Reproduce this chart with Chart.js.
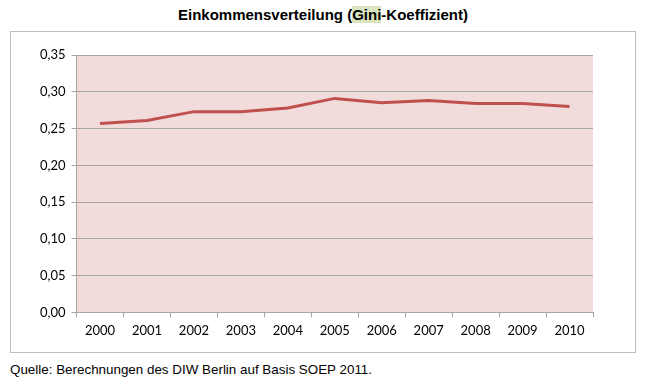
<!DOCTYPE html>
<html>
<head>
<meta charset="utf-8">
<script src="https://cdn.jsdelivr.net/npm/chart.js@4"></script>
<style>
    body { margin: 0; background: #fff; font-family: "Liberation Sans", Arial, sans-serif; }
    #title { position: absolute; left: 0; top: 6px; width: 646px; text-align: center; font-weight: bold; font-size: 15px; color: #000; }
    #title span { background: #d7e4bd; }
    #box { position: absolute; left: 10px; top: 31px; width: 624px; height: 320px; border: 1px solid #bfbfbf; }
    #source { position: absolute; left: 10px; top: 362px; font-size: 13.4px; color: #000; }
</style>
</head>
<body>
<div id="title">Einkommensverteilung (<span>Gini</span>-Koeffizient)</div>
<div id="box"><canvas id="myChart" width="624" height="320"></canvas></div>
<div id="source">Quelle: Berechnungen des DIW Berlin auf Basis SOEP 2011.</div>
<script>
const years = ['2000', '2001', '2002', '2003', '2004', '2005', '2006', '2007', '2008', '2009', '2010'];
const giniValues = [0.257, 0.261, 0.273, 0.273, 0.278, 0.291, 0.285, 0.288, 0.284, 0.284, 0.280];
const yTicks = [0, 0.05, 0.10, 0.15, 0.20, 0.25, 0.30, 0.35];

// fills the plot area with the pink background
const plotBackground = {
    id: 'plotBackground',
    beforeDraw(chart) {
        const a = chart.chartArea;
        chart.ctx.save();
        chart.ctx.fillStyle = '#f2dcdb';
        chart.ctx.fillRect(a.left, a.top, a.right - a.left, a.bottom - a.top);
        chart.ctx.restore();
    }
};

var ctx = document.getElementById('myChart').getContext('2d');
var myChart = new Chart(ctx, {
    type: 'line',
    data: {
        labels: years,
        datasets: [{
            data: giniValues,
            borderColor: '#c0504d',
            borderWidth: 3,
            pointRadius: 0,
            tension: 0,
            fill: false
        }]
    },
    options: {
        responsive: false,
        animation: false,
        layout: { padding: { left: 23, right: 42, top: 23, bottom: 7 } },
        plugins: {
            legend: { display: false },
            tooltip: { enabled: false }
        },
        scales: {
            x: {
                offset: true,
                grid: { offset: true, drawOnChartArea: false, drawTicks: true, tickLength: 5, color: '#a6a6a6' },
                border: { color: '#a6a6a6' },
                ticks: { color: '#000', font: { family: 'Lato', size: 13 }, padding: 6, maxRotation: 0 }
            },
            y: {
                min: 0,
                max: 0.35,
                afterBuildTicks: axis => { axis.ticks = yTicks.map(v => ({ value: v })); },
                grid: { color: '#a6a6a6', tickLength: 5 },
                border: { color: '#a6a6a6' },
                ticks: {
                    color: '#000',
                    font: { family: 'Lato', size: 13 },
                    padding: 6,
                    callback: value => value.toFixed(2).replace('.', ',')
                }
            }
        }
    },
    plugins: [plotBackground]
});
</script>
</body>
</html>
